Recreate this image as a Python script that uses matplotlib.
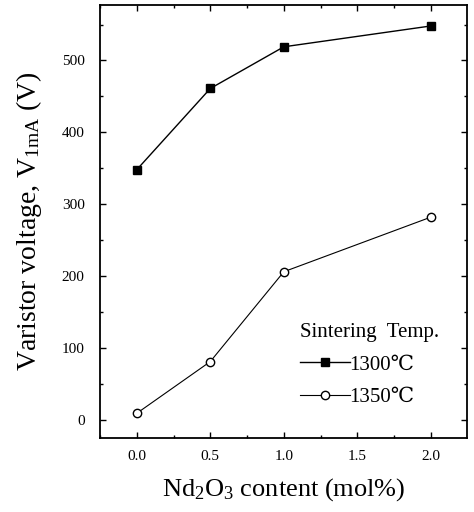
import matplotlib
matplotlib.use("Agg")
import matplotlib.pyplot as plt
from matplotlib.ticker import MultipleLocator

plt.rcParams['font.family'] = ['Liberation Serif', 'DejaVu Serif']
plt.rcParams['mathtext.fontset'] = 'custom'
plt.rcParams['mathtext.rm'] = 'Liberation Serif'
plt.rcParams['mathtext.it'] = 'Liberation Serif:italic'

# Nd2O3 content (mol%)
content = [0.0, 0.5, 1.0, 2.0]
# varistor voltage (V)
v_1300 = [348, 461, 519, 548]
v_1350 = [9, 81, 206, 282]
xticks = [0.0, 0.5, 1.0, 1.5, 2.0]
yticks = [0, 100, 200, 300, 400, 500]

fig = plt.figure(figsize=(4.74, 5.12), dpi=100)
ax = fig.add_axes([0.211, 0.145, 0.774, 0.845])

ax.plot(content, v_1300, color='black', lw=1, marker='s', ms=6,
        mfc='black', mec='black', label='1300\u2103')
ax.plot(content, v_1350, color='black', lw=0.8, marker='o', ms=6,
        mfc='white', mec='black', label='1350\u2103')

ax.set_xlim(-0.25, 2.245)
ax.set_ylim(-25, 577)
ax.set_xticks(xticks)
ax.set_xticklabels(['%.1f' % t for t in xticks])
ax.set_yticks(yticks)
ax.xaxis.set_minor_locator(MultipleLocator(0.25))
ax.yaxis.set_minor_locator(MultipleLocator(50))
ax.tick_params(which='both', direction='in', top=True, right=True,
               labelsize=11, width=1)
ax.tick_params(which='major', length=4)
ax.tick_params(which='minor', length=2.5)
ax.tick_params(axis='x', pad=9)
ax.tick_params(axis='y', pad=11)
for s in ax.spines.values():
    s.set_linewidth(1.3)

ax.set_xlabel(r'Nd$_2$O$_3$ content (mol%)', fontsize=19, labelpad=9)
ax.set_ylabel(r'Varistor voltage, V$_{\mathrm{1mA}}$ (V)', fontsize=20, labelpad=13)

leg = ax.legend(title='Sintering  Temp.', loc='lower right', frameon=False,
                fontsize=15, title_fontsize=15, handlelength=2.4,
                handletextpad=0.0, labelspacing=0.62, borderaxespad=0.0,
                bbox_to_anchor=(0.946, 0.052))
leg._legend_box.align = 'left'

plt.savefig('out.png', dpi=100)
